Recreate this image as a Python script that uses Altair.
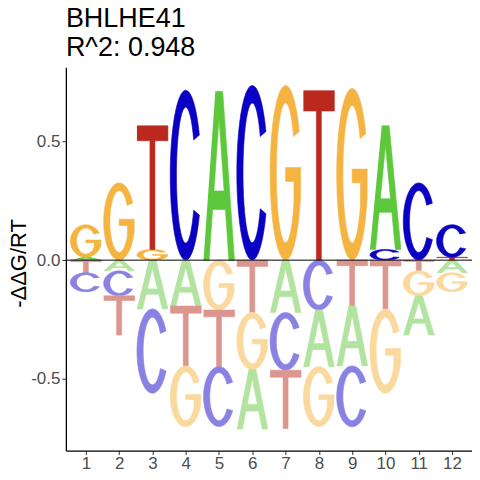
import numpy as np
import pandas as pd
import altair as alt

positions = list(range(1, 13))
A_vals = [0.012, -0.045, -0.205, -0.193, 0.710, -0.250, -0.220, -0.238, -0.252, 0.520, -0.165, -0.053]
C_vals = [-0.080, -0.105, -0.355, 0.715, -0.252, 0.735, -0.243, -0.210, -0.256, 0.045, 0.325, 0.137]
G_vals = [0.137, 0.325, 0.045, -0.256, -0.210, -0.240, 0.735, -0.252, 0.723, -0.355, -0.105, -0.080]
T_vals = [-0.053, -0.165, 0.520, -0.252, -0.238, -0.220, -0.245, 0.713, -0.193, -0.205, -0.045, 0.012]
title_lines = ["BHLHE41", "R^2: 0.948"]
y_title = "-\u0394\u0394G/RT"
y_ticks = [-0.5, 0.0, 0.5]

color_keys = ["A+", "C+", "G+", "T+", "A-", "C-", "G-", "T-"]
color_vals = ["#5dc83c", "#0a00c3", "#f5b441", "#ba281e",
              "#b3e3a0", "#8a82e2", "#fad99e", "#db968f"]


# ---- glyph outlines in a unit box (shape definitions) ----
def arc(cx, cy, rx, ry, a0, a1, n=40):
    t = np.radians(np.linspace(a0, a1, n))
    return list(zip(cx + rx * np.cos(t), cy + ry * np.sin(t)))


def glyph_C():
    outer = arc(0.5, 0.5, 0.5, 0.5, 28, 332)
    inner = arc(0.5, 0.5, 0.30, 0.40, 329, 31)
    return outer + inner


def glyph_G():
    outer = arc(0.5, 0.5, 0.5, 0.5, 28, 335)
    right = [(0.985, 0.36), (0.985, 0.53), (0.5, 0.53), (0.5, 0.45), (0.77, 0.45)]
    inner = arc(0.5, 0.5, 0.30, 0.40, 334, 31)
    return outer + right + inner


def glyph_T():
    return [(0, 1), (1, 1), (1, 0.88), (0.58, 0.88), (0.58, 0), (0.42, 0),
            (0.42, 0.88), (0, 0.88)]


def glyph_A():
    k = 0.38
    lb, rb = 0.30, 0.41
    pts = [(0, 0), (0.18, 0), (0.18 + k * lb, lb), (0.82 - k * lb, lb), (0.82, 0), (1, 0),
           (0.62, 1), (0.5, 1), (0.5, 0.84),
           (0.82 - k * rb, rb), (0.18 + k * rb, rb), (0.5, 0.84),
           (0.5, 1), (0.38, 1)]
    return pts


GLYPHS = {"A": glyph_A(), "C": glyph_C(), "G": glyph_G(), "T": glyph_T()}
W = 0.93

rows = []
gid = 0
for i, p in enumerate(positions):
    vals = {"A": A_vals[i], "C": C_vals[i], "G": G_vals[i], "T": T_vals[i]}
    pos_items = sorted([(v, l) for l, v in vals.items() if v > 0])
    neg_items = sorted([(-v, l) for l, v in vals.items() if v < 0])
    stacks = []
    base = 0.0
    for v, l in pos_items:
        stacks.append((l, base, v, "+"))
        base += v
    base = 0.0
    for m, l in neg_items:
        stacks.append((l, base - m, m, "-"))
        base -= m
    for l, y0, h, s in stacks:
        for j, (ux, uy) in enumerate(GLYPHS[l]):
            rows.append({"gid": gid, "idx": j, "x": p + (ux - 0.5) * W,
                         "y": y0 + uy * h, "key": l + s})
        gid += 1

df = pd.DataFrame(rows)
FONT = "Liberation Sans"

cscale = alt.Scale(domain=color_keys, range=color_vals)

letters = alt.Chart(df).mark_line(filled=True, strokeWidth=0.6).encode(
    x=alt.X("x:Q", scale=alt.Scale(domain=[0.4, 12.6], nice=False, zero=False),
            axis=alt.Axis(values=positions, format="d", title=None, grid=False,
                          labelPadding=1)),
    y=alt.Y("y:Q", scale=alt.Scale(domain=[-0.801, 0.811], nice=False, zero=False),
            axis=alt.Axis(values=y_ticks, title=y_title, grid=False,
                          labelExpr="replace(format(datum.value, '.1f'), '\u2212', '-')",
                          labelPadding=2, titleFontSize=22, titleFont=FONT,
                          titleFontWeight="normal", titleColor="black",
                          titleX=-40, titleY=196, titleBaseline="alphabetic",
                          titleAngle=270)),
    color=alt.Color("key:N", scale=cscale, legend=None),
    stroke=alt.Stroke("key:N", scale=cscale, legend=None),
    detail="gid:N",
    order="idx:Q",
)

zero = alt.Chart(pd.DataFrame({"y": [0.0]})).mark_rule(color="black", strokeWidth=1).encode(
    y="y:Q"
)

chart = alt.layer(letters, zero).properties(
    width=407, height=384,
    padding={"left": 58, "top": 59, "right": 0, "bottom": 21},
    autosize=alt.AutoSizeParams(type="none"),
    title=alt.Title(title_lines, anchor="start", frame="group", fontSize=27, font=FONT,
                    fontWeight="normal", color="black", lineHeight=29, offset=5),
).configure_axis(
    domainColor="black", domainWidth=1.3, tickColor="#333333", tickSize=4,
    labelColor="#4d4d4d", labelFontSize=17, labelFont=FONT,
).configure_view(strokeWidth=0)

chart.save("out.html", embed_options={"renderer": "svg", "actions": False})
